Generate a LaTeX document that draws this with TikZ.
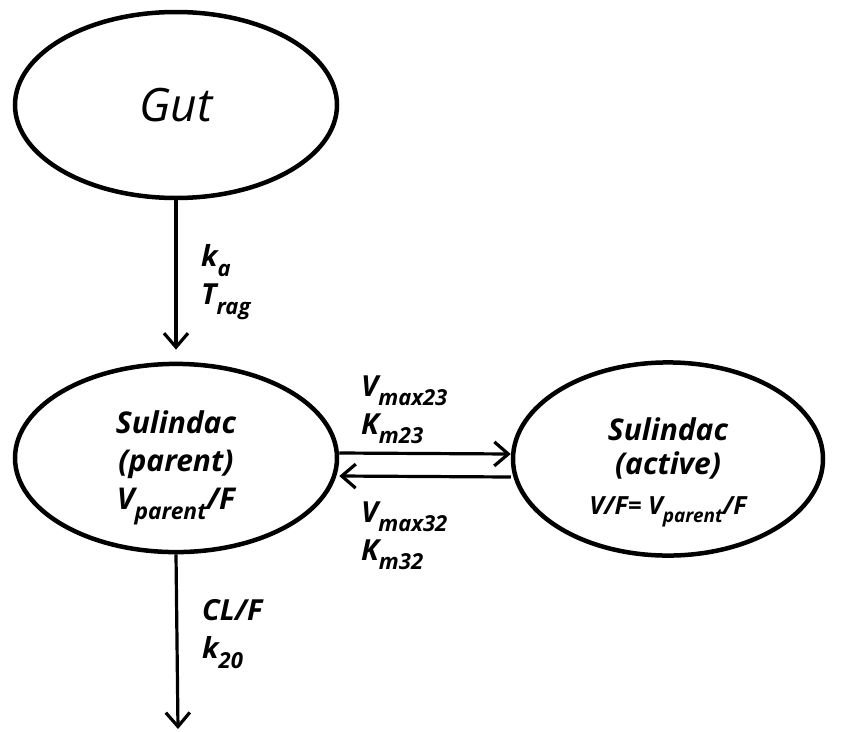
\documentclass[tikz,border=0pt]{standalone}
\usepackage{fontspec}
\setmainfont{Open Sans}
\usepackage{tikz}
\usetikzlibrary{shapes.geometric, arrows.meta, positioning, calc}

\newcommand{\lowsub}[1]{\raisebox{-0.32em}{\scalebox{0.76}{#1}}}

\begin{document}
\begin{tikzpicture}[
    x=1pt, y=-1pt,
    comp/.style={ellipse, draw=black, line width=4.5pt, minimum width=322pt, minimum height=186pt,
                 inner sep=0pt, align=center, font=\fontsize{30}{38}\selectfont\bfseries\itshape},
    rate/.style={anchor=west, align=left, inner sep=0pt, font=\fontsize{29}{38}\selectfont\bfseries\itshape},
    arrow/.style={-{Straight Barb[length=14pt,width=24pt]}, line width=3.2pt}
]
\useasboundingbox (0,0) rectangle (851,731);
\node[comp, font=\fontsize{46}{52}\selectfont\itshape] (gut) at (176,105) {Gut};
\node[comp] (parent) at (176,458) {\rule{0pt}{42pt}Sulindac\\(parent)\\V\lowsub{parent}/F};
\node[comp, minimum width=310pt, font=\fontsize{30}{34}\selectfont\bfseries\itshape] (active) at (668,459)
    {\rule{0pt}{50pt}Sulindac\\(active)\\[6pt]{\fontsize{25}{30}\selectfont V/F= V\lowsub{parent}/F}};
\coordinate (elim) at (178,729);

\node[rate] (absorb) at (201,282) {k\lowsub{a}\\T\lowsub{rag}};
\node[rate] (conv) at (361,410) {V\lowsub{max23}\\K\lowsub{m23}};
\node[rate] (back) at (361,536) {V\lowsub{max32}\\K\lowsub{m32}};
\node[rate] (clear) at (202,634) {CL/F\\k\lowsub{20}};

\draw[arrow, shorten >=12pt] (gut.south) -- (parent.north);
\draw[arrow] ([yshift=5pt]parent.east) -- ([yshift=5pt]active.west);
\draw[arrow] ([yshift=-18pt]active.west) -- ([yshift=-18pt]parent.east);
\draw[arrow] (parent.south) -- (elim);
\end{tikzpicture}
\end{document}
